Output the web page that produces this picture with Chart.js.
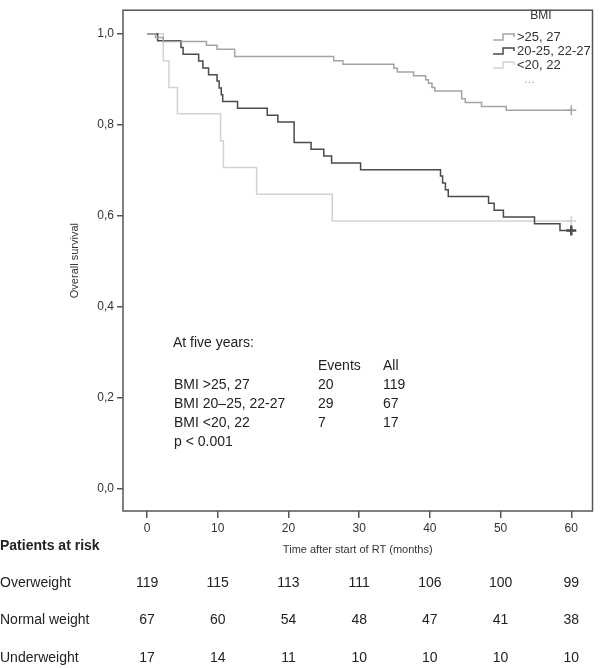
<!DOCTYPE html>
<html>
<head>
<meta charset="utf-8">
<script src="https://cdn.jsdelivr.net/npm/chart.js@4.4.1/dist/chart.umd.min.js"></script>
<style>
  body { margin: 0; background: #fff; }
  canvas { display: block; }
</style>
</head>
<body>
<canvas id="km" width="600" height="668"></canvas>
<script>
// axis ticks
const timeTicks = [0, 10, 20, 30, 40, 50, 60];
const survivalTicks = [0, 0.2, 0.4, 0.6, 0.8, 1.0];

// Kaplan-Meier steps (time in months, survival after the drop)
const overTimes = [0, 1.2, 2.3, 8.4, 9.9, 12.4, 26.4, 27.7, 34.9, 35.4, 37.7, 39.4, 39.8, 40.3, 40.7, 44.5, 45.0, 47.3, 50.8, 60];
const overSurv = [1.0, 0.992, 0.983, 0.975, 0.966, 0.950, 0.941, 0.933, 0.924, 0.916, 0.908, 0.899, 0.891, 0.882, 0.874, 0.857, 0.849, 0.840, 0.832, 0.832];

const normalTimes = [0, 1.5, 4.8, 5.1, 7.3, 7.9, 8.7, 9.9, 10.2, 10.5, 10.7, 12.8, 17.0, 18.5, 20.8, 23.2, 25.0, 26.1, 30.2, 41.5, 41.8, 42.2, 42.6, 48.3, 49.1, 50.4, 54.8, 58.4, 60];
const normalSurv = [1.0, 0.985, 0.970, 0.955, 0.940, 0.925, 0.910, 0.896, 0.881, 0.866, 0.851, 0.836, 0.821, 0.806, 0.761, 0.746, 0.731, 0.716, 0.701, 0.687, 0.672, 0.657, 0.642, 0.627, 0.612, 0.597, 0.582, 0.567, 0.567];

const underTimes = [0, 2.3, 3.1, 4.3, 10.4, 10.8, 15.5, 26.2, 60];
const underSurv = [1.0, 0.941, 0.882, 0.824, 0.765, 0.706, 0.647, 0.588, 0.588];

const groupLabels = ['>25, 27', '20-25, 22-27', '<20, 22'];

// summary box
const summaryRows = ['BMI >25, 27', 'BMI 20\u201325, 22-27', 'BMI <20, 22'];
const summaryEvents = [20, 29, 7];
const summaryAll = [119, 67, 17];

// patients at risk
const riskRows = ['Overweight', 'Normal weight', 'Underweight'];
const riskOver = [119, 115, 113, 111, 106, 100, 99];
const riskNormal = [67, 60, 54, 48, 47, 41, 38];
const riskUnder = [17, 14, 11, 10, 10, 10, 10];

const FONT = '"Liberation Sans", Arial, sans-serif';
const colors = ['#a4a4a4', '#4a4a4a', '#d2d2d2'];

function toPoints(times, surv) {
    return times.map((t, i) => ({ x: t, y: surv[i] }));
}

function kmDataset(label, times, surv, color, crossSize, crossWidth) {
    const last = times.length - 1;
    return {
        label: label,
        data: toPoints(times, surv),
        stepped: 'before',
        borderColor: color,
        borderWidth: 1.5,
        fill: false,
        pointStyle: 'cross',
        pointRadius: (c) => c.dataIndex === last ? crossSize : 0,
        pointBorderColor: color,
        pointBorderWidth: crossWidth,
        pointHoverRadius: 0,
    };
}

const overlay = {
    id: 'overlay',
    afterDraw(chart) {
        const { ctx, chartArea: a, scales: { x } } = chart;
        ctx.save();

        // frame round the plot
        ctx.strokeStyle = '#555';
        ctx.lineWidth = 1.5;
        ctx.strokeRect(a.left, a.top, a.right - a.left, a.bottom - a.top);

        // legend
        ctx.fillStyle = '#333';
        ctx.font = '12px ' + FONT;
        ctx.textAlign = 'center';
        ctx.textBaseline = 'middle';
        ctx.fillText('BMI', 541, 16);
        ctx.textAlign = 'left';
        ctx.font = '13px ' + FONT;
        chart.data.datasets.forEach((ds, i) => {
            const y = 37 + i * 14;
            ctx.strokeStyle = ds.borderColor;
            ctx.lineWidth = 1.5;
            ctx.beginPath();
            ctx.moveTo(493, y + 3);
            ctx.lineTo(503, y + 3);
            ctx.lineTo(503, y - 3);
            ctx.lineTo(514, y - 3);
            ctx.lineTo(514, y);
            ctx.stroke();
            ctx.fillStyle = '#333';
            ctx.fillText(ds.label, 517, y);
        });
        ctx.fillStyle = '#999';
        ctx.font = '11px ' + FONT;
        ctx.fillText('\u2026', 524, 80);

        // five year summary
        ctx.fillStyle = '#222';
        ctx.font = '14px ' + FONT;
        ctx.fillText('At five years:', 173, 343);
        ctx.fillText('Events', 318, 366);
        ctx.fillText('All', 383, 366);
        summaryRows.forEach((r, i) => {
            const y = 385 + i * 19;
            ctx.fillText(r, 174, y);
            ctx.fillText(String(summaryEvents[i]), 318, y);
            ctx.fillText(String(summaryAll[i]), 383, y);
        });
        ctx.fillText('p < 0.001', 174, 442);

        // patients at risk table
        ctx.font = 'bold 14px ' + FONT;
        ctx.fillText('Patients at risk', 0, 546);
        ctx.font = '14px ' + FONT;
        const rows = [riskOver, riskNormal, riskUnder];
        rows.forEach((vals, i) => {
            const y = 583 + i * 37.5;
            ctx.textAlign = 'left';
            ctx.fillText(riskRows[i], 0, y);
            ctx.textAlign = 'center';
            vals.forEach((v, j) => {
                ctx.fillText(String(v), x.getPixelForValue(timeTicks[j]), y);
            });
        });
        ctx.restore();
    }
};

new Chart(document.getElementById('km'), {
    type: 'line',
    data: {
        datasets: [
            kmDataset(groupLabels[0], overTimes, overSurv, colors[0], 5, 1.5),
            kmDataset(groupLabels[1], normalTimes, normalSurv, colors[1], 5, 2.5),
            kmDataset(groupLabels[2], underTimes, underSurv, colors[2], 5, 1.5),
        ],
    },
    options: {
        responsive: false,
        animation: false,
        events: [],
        layout: { padding: { left: 0, top: 3, right: 5, bottom: 0 } },
        plugins: {
            legend: { display: false },
            tooltip: { enabled: false },
        },
        scales: {
            x: {
                type: 'linear',
                min: -3.4,
                max: 63,
                afterBuildTicks: (s) => { s.ticks = timeTicks.map(v => ({ value: v })); },
                afterFit: (s) => { s.height = 157; },
                border: { display: false },
                grid: { drawOnChartArea: false, tickLength: 7, color: '#555', lineWidth: 1.5 },
                ticks: { padding: 3, color: '#333', font: { family: FONT, size: 12 } },
                title: {
                    display: true,
                    text: 'Time after start of RT (months)',
                    color: '#333',
                    font: { family: FONT, size: 11 },
                    padding: { top: 0, bottom: 111 },
                },
            },
            y: {
                type: 'linear',
                min: -0.05,
                max: 1.052,
                afterBuildTicks: (s) => { s.ticks = survivalTicks.map(v => ({ value: v })); },
                afterFit: (s) => { s.width = 123; },
                border: { display: false },
                grid: { drawOnChartArea: false, tickLength: 6, color: '#555', lineWidth: 1.5 },
                ticks: {
                    padding: 3,
                    color: '#333',
                    font: { family: FONT, size: 12 },
                    callback: (v) => v.toFixed(1).replace('.', ','),
                },
                title: {
                    display: true,
                    text: 'Overall survival',
                    color: '#333',
                    font: { family: FONT, size: 11 },
                    padding: { top: 68, bottom: 0 },
                },
            },
        },
    },
    plugins: [overlay],
});
</script>
</body>
</html>
